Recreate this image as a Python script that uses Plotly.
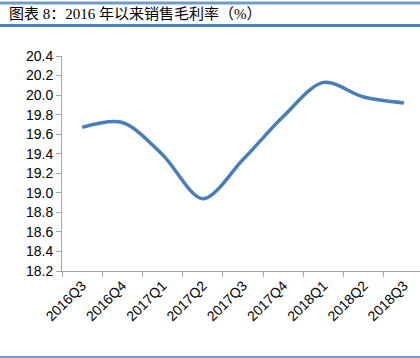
import plotly.graph_objects as go

categories = ["2016Q3", "2016Q4", "2017Q1", "2017Q2", "2017Q3", "2017Q4", "2018Q1", "2018Q2", "2018Q3"]
gross_margin = [19.67, 19.72, 19.39, 18.94, 19.34, 19.78, 20.13, 19.98, 19.92]
y_ticks = [18.2, 18.4, 18.6, 18.8, 19.0, 19.2, 19.4, 19.6, 19.8, 20.0, 20.2, 20.4]
title_text = "图表 8：2016 年以来销售毛利率（%）"

W, H = 420, 358
L, R, T, B = 62, 0, 56, 87
pw, ph = W - L - R, H - T - B

def px_x(x):
    return (x - L) / pw

def px_y(y):
    return (H - B - y) / ph

fig = go.Figure()
fig.add_trace(go.Scatter(
    x=categories, y=gross_margin, mode="lines",
    line=dict(color="#4A7EBB", width=3.5, shape="spline", smoothing=0.9),
    hoverinfo="x+y", showlegend=False,
))

axis_grey = "#A6A6A6"
fig.update_layout(
    width=W, height=H,
    margin=dict(l=L, r=R, t=T, b=B, pad=0),
    paper_bgcolor="white", plot_bgcolor="white",
    xaxis=dict(
        type="category", range=[-0.5, 8.4],
        showline=True, linecolor=axis_grey, linewidth=1,
        ticks="outside", tickson="boundaries", ticklen=5, tickcolor=axis_grey,
        tickangle=-45, showgrid=False, zeroline=False,
        tickfont=dict(family="Liberation Sans, Arial, sans-serif", size=14, color="#000000"),
    ),
    yaxis=dict(
        range=[18.2, 20.4], tickvals=y_ticks, ticktext=[f"{v:.1f}" for v in y_ticks],
        showline=True, linecolor=axis_grey, linewidth=1,
        ticks="outside", ticklen=5, tickcolor=axis_grey,
        showgrid=False, zeroline=False,
        tickfont=dict(family="Liberation Sans, Arial, sans-serif", size=14, color="#000000"),
    ),
    shapes=[
        dict(type="line", xref="paper", yref="paper", x0=px_x(0), x1=px_x(W), y0=px_y(3), y1=px_y(3),
             line=dict(color="#6C9BD2", width=3)),
        dict(type="line", xref="paper", yref="paper", x0=px_x(0), x1=px_x(W), y0=px_y(25.5), y1=px_y(25.5),
             line=dict(color="#4F81BD", width=3)),
        dict(type="line", xref="paper", yref="paper", x0=px_x(0), x1=px_x(W), y0=px_y(357), y1=px_y(357),
             line=dict(color="#6C9BD2", width=2)),
    ],
    annotations=[
        dict(text=title_text, xref="paper", yref="paper", x=px_x(7), y=px_y(14.5),
             xanchor="left", yanchor="middle", showarrow=False,
             font=dict(family="Liberation Serif, Noto Sans CJK SC, serif", size=15, color="#000000")),
    ],
)

fig.write_html("out.html", config={"displayModeBar": False},
               post_script="document.body.style.margin='0';document.body.style.overflow='hidden';")
